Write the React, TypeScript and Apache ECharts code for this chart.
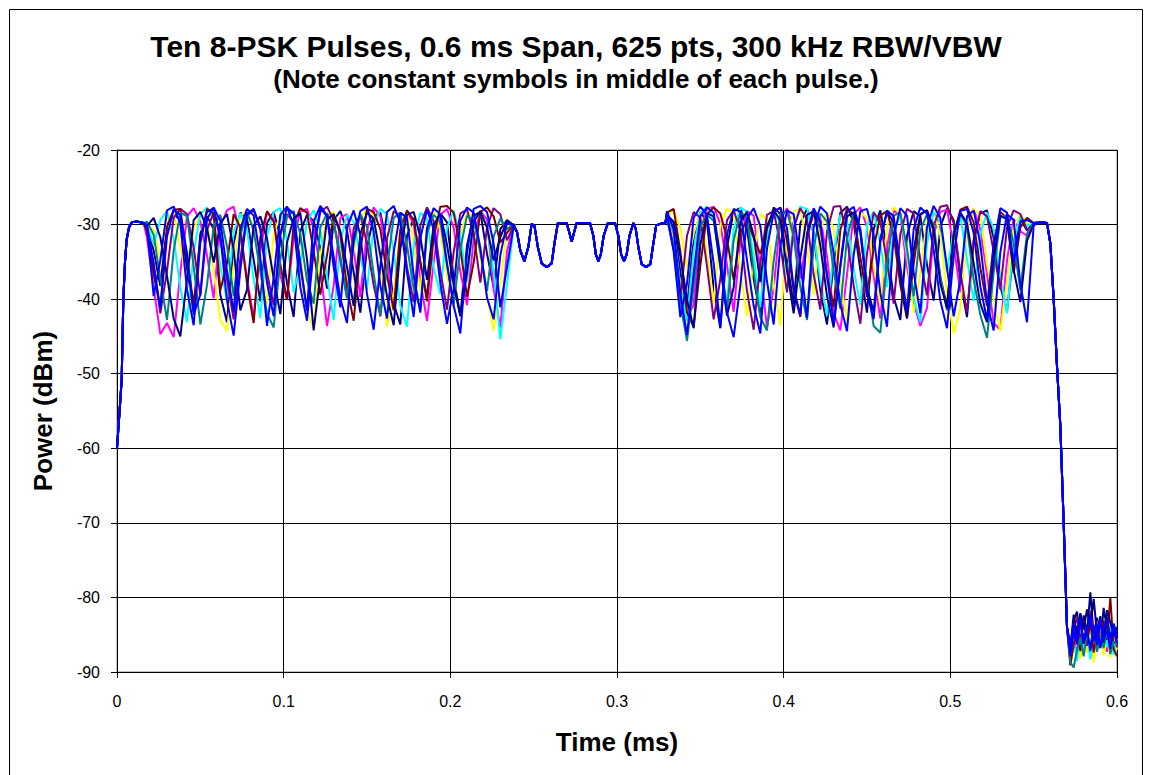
import React, { useEffect, useRef } from "react";
import * as echarts from "echarts";

const TITLE = "Ten 8-PSK Pulses, 0.6 ms Span, 625 pts, 300 kHz RBW/VBW";
const SUBTITLE = "(Note constant symbols in middle of each pulse.)";
const X_NAME = "Time (ms)";
const Y_NAME = "Power (dBm)";

const seriesNames = ["Pulse 1", "Pulse 2", "Pulse 3", "Pulse 4", "Pulse 5", "Pulse 6", "Pulse 7", "Pulse 8", "Pulse 9", "Pulse 10"];
const seriesColors = ["#000080", "#FF00FF", "#FFFF00", "#00FFFF", "#800080", "#800000", "#008080", "#000080", "#0000FF", "#0000FF"];

// Common ramp-up (all pulses)
const riseT = [0, 0.0014, 0.0028, 0.0038, 0.0048, 0.0058, 0.0072, 0.0088, 0.012, 0.016];
const riseV = [-60, -55.5, -50.8, -40, -35, -32, -30.4, -29.7, -29.6, -29.8];

// Common constant-symbol section in the middle
const midT = [0.240, 0.242, 0.2444, 0.2468, 0.2488, 0.2505, 0.2525, 0.2548, 0.2578, 0.2608, 0.2625, 0.2645, 0.2698, 0.2713, 0.2728, 0.2743, 0.2758, 0.2838, 0.2858, 0.2873, 0.2888, 0.2903, 0.292, 0.2945, 0.2988, 0.3008, 0.3025, 0.3042, 0.3058, 0.3075, 0.3098, 0.3112, 0.3128, 0.3148, 0.3174, 0.32, 0.3215, 0.3235, 0.326, 0.329];
const midV = [-31.0, -33.5, -34.9, -33.0, -29.9, -30.2, -33.0, -35.2, -35.7, -35.2, -32.5, -29.8, -29.8, -31.0, -32.3, -31.0, -29.8, -29.8, -31.5, -34.0, -34.9, -34.0, -31.5, -29.8, -29.8, -31.5, -34.0, -34.9, -34.0, -31.5, -29.8, -30.5, -33.0, -35.3, -35.7, -35.3, -33.0, -30.1, -29.9, -29.8];

// Common fall
const fallT = [0.554, 0.558, 0.560, 0.562, 0.564, 0.566, 0.568, 0.570];
const fallV = [-29.7, -29.8, -32.5, -40, -49, -57, -70, -84];

// Section A: 0.018 .. 0.238 ms, step 0.004
const A_START = 0.018;
const A_STEP = 0.004;
const a1 = [-30.4, -33.5, -38.2, -30.1, -28.6, -29.4, -35.8, -41.7,
  -31.2, -28.9, -30.6, -39.4, -43.1, -32.5, -28.4, -29.2,
  -34.7, -40.3, -29.8, -28.3, -31.6, -37.9, -42.4, -30.9,
  -28.7, -29.5, -33.2, -38.6, -29.4, -28.2, -30.8, -36.4,
  -41.8, -33.1, -28.9, -28.4, -32.7, -40.6, -43.4, -31.5,
  -29.1, -35.2, -39.8, -30.3, -28.5, -29.7, -37.1, -42.2,
  -32.8, -28.8, -28.3, -33.9, -38.4, -30.6, -29.4, -30.1];
const a2 = [-31.8, -38.5, -44.7, -43.2, -45.1, -36.4, -28.9, -27.8,
  -29.6, -34.1, -39.9, -30.2, -28.1, -27.6, -31.3, -37.2,
  -42.6, -33.5, -28.4, -29.2, -36.8, -40.1, -31.7, -28.3,
  -27.9, -30.5, -35.9, -43.6, -38.2, -29.1, -28.6, -33.4,
  -39.7, -30.8, -27.7, -28.9, -34.6, -41.3, -32.2, -28.5,
  -29.8, -37.6, -42.9, -35.1, -28.7, -27.9, -30.4, -36.3,
  -40.8, -31.9, -28.2, -29.3, -38.7, -43.8, -33.6, -29.9];
const a3 = [-29.9, -30.8, -34.6, -29.2, -28.4, -32.9, -37.5, -30.6,
  -28.7, -29.4, -36.1, -42.8, -44.3, -35.7, -28.9, -28.1,
  -30.3, -35.2, -40.6, -31.4, -28.6, -27.9, -29.7, -33.8,
  -41.5, -43.9, -34.2, -28.8, -28.3, -31.1, -38.3, -33.6,
  -29.2, -27.8, -28.9, -35.4, -43.7, -39.2, -30.1, -28.5,
  -32.4, -38.9, -29.6, -28.2, -30.7, -36.8, -41.2, -31.3,
  -28.4, -29.1, -34.5, -39.6, -44.2, -37.8, -30.6, -29.8];
const a4 = [-30.1, -32.7, -29.4, -28.2, -31.9, -38.4, -43.1, -33.8,
  -28.6, -27.7, -29.3, -35.6, -40.2, -30.9, -28.5, -30.6,
  -37.3, -42.5, -31.6, -28.3, -27.8, -32.2, -39.1, -35.4,
  -29.5, -28.1, -30.8, -36.9, -42.8, -32.3, -28.7, -29.6,
  -34.2, -38.7, -30.2, -27.9, -28.6, -33.5, -40.9, -43.7,
  -32.8, -28.4, -29.2, -35.8, -39.3, -30.4, -28.1, -31.5,
  -37.7, -29.6, -28.3, -30.2, -36.4, -45.4, -38.1, -30.3];
const a5 = [-30.6, -35.3, -41.9, -36.2, -29.1, -27.9, -28.6, -33.1,
  -39.5, -30.7, -28.4, -31.8, -37.4, -42.7, -34.6, -28.8,
  -28.1, -30.2, -36.5, -40.8, -31.4, -28.6, -29.7, -35.1,
  -41.6, -33.2, -28.3, -27.6, -29.4, -34.8, -39.9, -30.5,
  -28.7, -32.6, -38.1, -42.3, -31.9, -28.2, -28.9, -35.7,
  -40.4, -30.1, -27.7, -29.5, -36.2, -41.4, -33.7, -28.5,
  -28.0, -31.2, -37.8, -30.4, -27.8, -28.6, -32.1, -30.2];
const a6 = [-30.9, -36.7, -41.2, -30.3, -28.0, -27.9, -34.5, -40.7,
  -32.1, -27.9, -28.5, -38.8, -35.2, -28.6, -30.4, -37.9,
  -43.2, -31.7, -28.2, -29.6, -35.3, -40.1, -29.9, -27.8,
  -28.4, -33.6, -39.4, -34.1, -28.7, -31.2, -38.5, -42.9,
  -33.4, -27.9, -28.3, -30.6, -36.8, -41.5, -30.7, -28.1,
  -29.4, -34.9, -40.3, -31.8, -27.6, -27.5, -28.4, -33.2,
  -39.7, -35.1, -28.3, -27.7, -28.9, -32.4, -31.1, -30.0];
const a7 = [-29.6, -31.4, -37.2, -42.8, -33.5, -28.4, -28.9, -35.6,
  -43.4, -38.1, -30.2, -28.7, -32.9, -39.6, -31.5, -28.3,
  -30.8, -36.3, -41.9, -43.8, -34.7, -28.9, -28.2, -31.3,
  -37.5, -40.6, -30.4, -28.5, -29.9, -34.2, -39.8, -32.6,
  -28.6, -30.3, -36.6, -42.1, -35.9, -29.1, -28.4, -32.8,
  -38.6, -41.3, -31.2, -28.7, -29.6, -35.4, -40.7, -33.3,
  -28.8, -29.4, -33.7, -38.9, -31.6, -29.2, -30.6, -29.9];
const a8 = [-30.2, -29.1, -31.7, -36.9, -42.6, -45.0, -37.3, -29.4,
  -28.3, -30.5, -35.1, -29.8, -28.6, -33.4, -41.5, -38.7,
  -30.1, -28.9, -31.9, -37.2, -42.0, -32.4, -29.2, -28.5,
  -34.6, -44.2, -36.8, -29.3, -28.6, -30.9, -35.7, -40.9,
  -31.3, -28.4, -29.2, -34.1, -39.6, -43.5, -33.2, -28.7,
  -28.3, -31.6, -37.4, -30.1, -28.5, -32.7, -38.1, -42.3,
  -36.5, -29.6, -28.2, -30.4, -34.8, -31.7, -29.5, -30.1];
const a9 = [-30.0, -35.4, -41.3, -31.6, -28.0, -28.7, -33.8, -42.1,
  -39.4, -29.3, -27.7, -29.5, -36.2, -41.7, -30.6, -27.9,
  -28.8, -34.5, -43.6, -37.1, -28.7, -27.6, -30.1, -38.4,
  -42.9, -33.3, -27.8, -28.9, -35.7, -41.1, -30.4, -28.1,
  -31.4, -39.3, -44.1, -35.6, -28.3, -27.5, -29.7, -36.4,
  -42.4, -31.8, -28.0, -30.6, -37.9, -43.3, -38.6, -29.5,
  -27.7, -28.4, -33.1, -39.8, -42.7, -34.1, -29.8, -30.1];
const a10 = [-30.3, -39.6, -34.8, -28.1, -27.6, -29.8, -38.7, -43.5,
  -32.4, -28.3, -27.8, -31.5, -40.2, -44.9, -36.1, -28.6,
  -27.9, -30.7, -37.8, -42.3, -31.2, -27.7, -28.5, -35.5,
  -41.4, -29.6, -27.5, -28.8, -34.3, -39.9, -43.2, -31.9,
  -28.2, -27.6, -30.9, -38.2, -42.6, -33.7, -28.4, -29.1,
  -36.8, -41.8, -30.5, -27.8, -28.6, -35.2, -40.9, -44.6,
  -33.9, -27.9, -27.5, -28.3, -32.6, -41.1, -35.7, -30.2];

// Section B: 0.330 .. 0.550 ms, step 0.004
const B_START = 0.330;
const B_STEP = 0.004;
const b1 = [-28.6, -29.8, -36.4, -41.2, -31.7, -28.3, -29.6, -38.5,
  -43.9, -33.1, -28.2, -27.8, -30.5, -37.3, -42.1, -31.4,
  -27.7, -28.6, -34.9, -40.7, -29.8, -27.9, -31.2, -38.8,
  -43.4, -35.2, -28.4, -27.6, -29.7, -36.1, -41.8, -30.6,
  -28.1, -33.3, -39.7, -42.8, -31.5, -28.2, -28.9, -35.4,
  -40.2, -30.3, -27.8, -29.4, -37.6, -42.4, -32.2, -28.5,
  -28.1, -31.8, -38.3, -41.6, -33.5, -29.3, -30.8, -29.8];
const b2 = [-28.3, -31.2, -38.6, -42.4, -40.8, -30.7, -27.9, -27.6,
  -29.9, -35.4, -41.7, -32.3, -28.2, -28.8, -36.1, -43.8,
  -38.5, -29.4, -27.8, -30.6, -37.2, -31.9, -28.4, -29.1,
  -34.3, -41.9, -44.2, -36.7, -28.6, -27.7, -30.3, -36.9,
  -42.6, -33.1, -28.1, -28.9, -35.7, -40.5, -43.6, -41.2,
  -31.4, -28.3, -28.0, -32.8, -39.1, -30.4, -27.9, -30.7,
  -36.6, -43.2, -44.1, -34.8, -29.2, -30.9, -31.5, -29.9];
const b3 = [-28.9, -28.1, -30.4, -35.7, -31.2, -28.5, -33.9, -40.6,
  -30.1, -27.8, -28.7, -36.2, -42.3, -34.4, -28.6, -29.3,
  -38.1, -43.5, -31.7, -28.2, -27.9, -32.5, -39.4, -30.8,
  -28.3, -30.6, -37.8, -42.9, -33.2, -28.4, -29.1, -35.5,
  -40.7, -30.2, -27.7, -28.5, -34.1, -41.8, -36.6, -29.2,
  -28.1, -31.4, -39.2, -44.6, -41.3, -30.5, -27.9, -28.8,
  -35.3, -40.1, -44.3, -37.6, -30.3, -28.6, -29.9, -29.8];
const b4 = [-28.7, -30.9, -38.2, -42.9, -33.6, -28.4, -27.6, -29.2,
  -35.8, -40.4, -30.6, -27.7, -28.3, -34.2, -41.1, -31.9,
  -28.5, -29.7, -36.8, -30.2, -27.6, -27.9, -31.3, -37.5,
  -42.2, -33.8, -28.7, -29.4, -35.9, -40.8, -30.1, -28.2,
  -32.6, -38.4, -31.1, -28.6, -33.7, -39.9, -43.1, -32.5,
  -28.3, -29.6, -36.3, -30.7, -28.8, -34.6, -40.3, -31.2,
  -28.4, -30.5, -37.1, -41.9, -32.4, -28.9, -30.2, -29.8];
const b5 = [-29.2, -33.4, -39.8, -31.5, -28.3, -29.1, -35.6, -42.7,
  -37.3, -29.4, -28.1, -30.8, -38.9, -44.1, -35.2, -28.7,
  -28.2, -32.6, -39.1, -30.5, -27.8, -29.3, -36.7, -41.4,
  -30.9, -27.6, -27.5, -31.7, -38.2, -43.3, -33.9, -28.4,
  -29.6, -35.1, -40.6, -31.3, -27.9, -28.5, -34.8, -39.5,
  -30.2, -27.6, -27.4, -29.8, -36.4, -41.7, -32.1, -28.2,
  -28.9, -33.6, -38.7, -30.4, -28.1, -28.6, -30.7, -29.9];
const b6 = [-28.4, -27.9, -33.6, -41.8, -43.7, -35.5, -28.6, -27.7,
  -28.5, -31.9, -37.4, -31.1, -29.4, -31.8, -33.9, -30.5,
  -28.1, -27.8, -32.2, -38.9, -42.4, -31.6, -28.3, -30.4,
  -36.8, -41.1, -30.7, -27.9, -28.6, -34.4, -39.7, -33.2,
  -28.8, -28.2, -31.5, -38.1, -42.6, -35.3, -28.7, -28.1,
  -30.9, -37.2, -40.8, -31.4, -28.0, -27.6, -29.7, -35.8,
  -40.9, -32.6, -28.3, -29.2, -36.5, -30.4, -29.1, -29.8];
const b7 = [-29.1, -32.8, -40.5, -45.6, -38.2, -30.3, -28.7, -29.5,
  -35.4, -41.6, -32.1, -28.4, -28.9, -36.3, -42.4, -44.2,
  -34.9, -28.6, -28.2, -31.7, -38.4, -42.8, -33.1, -28.5,
  -29.6, -36.2, -41.3, -31.8, -28.3, -30.5, -37.7, -43.6,
  -44.5, -35.3, -28.8, -28.4, -33.2, -39.6, -30.8, -28.6,
  -29.9, -36.9, -41.5, -31.6, -28.5, -30.3, -37.4, -42.1,
  -45.2, -36.4, -29.1, -28.7, -32.5, -38.8, -31.2, -29.8];
const b8 = [-28.8, -29.6, -34.2, -40.1, -43.9, -32.7, -28.5, -28.9,
  -35.6, -42.2, -38.4, -29.6, -28.3, -31.4, -37.7, -30.2,
  -28.1, -29.4, -36.1, -41.9, -34.5, -28.7, -28.2, -32.8,
  -39.6, -43.8, -35.7, -28.9, -28.4, -31.1, -38.5, -41.7,
  -31.9, -28.3, -29.7, -36.8, -42.5, -33.4, -28.6, -28.1,
  -30.6, -37.9, -41.2, -31.3, -28.4, -29.8, -35.2, -40.6,
  -43.1, -34.7, -28.8, -29.3, -36.1, -40.4, -32.2, -29.9];
const b9 = [-28.2, -30.7, -39.3, -44.8, -36.5, -28.9, -27.7, -28.4,
  -34.3, -41.8, -45.1, -38.2, -29.2, -27.8, -30.2, -37.6,
  -43.4, -32.8, -28.1, -28.6, -35.1, -42.5, -30.4, -27.6,
  -28.5, -33.9, -40.7, -44.3, -34.1, -28.2, -27.9, -31.4,
  -39.2, -43.7, -31.6, -27.8, -28.8, -36.4, -41.9, -30.3,
  -27.5, -29.1, -35.8, -42.3, -37.4, -28.9, -28.1, -32.6,
  -40.5, -44.2, -33.7, -28.6, -29.4, -37.9, -43.1, -30.1];
const b10 = [-28.5, -33.6, -42.4, -37.9, -29.1, -27.6, -28.7, -35.2,
  -43.7, -31.4, -27.9, -28.3, -34.8, -40.9, -44.6, -33.2,
  -28.4, -27.7, -30.5, -38.6, -42.1, -31.2, -27.8, -29.6,
  -36.9, -43.2, -35.4, -28.3, -27.6, -30.8, -39.1, -42.7,
  -32.3, -28.1, -28.9, -35.7, -41.6, -30.6, -27.7, -28.5,
  -33.4, -40.2, -43.9, -34.2, -28.2, -27.9, -31.1, -38.3,
  -42.8, -32.9, -27.8, -28.4, -35.1, -29.6, -29.4, -29.8];

// Noise floor after the pulse: 0.572 .. 0.600 ms, step 0.002
const T_START = 0.572;
const T_STEP = 0.002;
const t1 = [-87.2, -83.1, -81.9, -85.6, -82.4, -84.8, -79.3, -85.1, -82.7, -86.3, -81.4, -84.2, -87.5, -83.6, -85.9];
const t2 = [-88.4, -85.2, -87.6, -83.9, -86.7, -84.1, -87.9, -85.4, -83.2, -86.8, -84.5, -87.3, -85.6, -83.8, -86.2];
const t3 = [-88.9, -86.1, -84.3, -88.2, -85.7, -87.4, -83.6, -88.7, -86.4, -84.9, -87.8, -85.3, -88.1, -84.7, -87.0];
const t4 = [-87.6, -85.9, -88.5, -84.6, -86.9, -85.1, -88.3, -84.4, -87.1, -85.8, -83.5, -86.6, -84.2, -87.7, -85.5];
const t5 = [-86.3, -84.2, -82.7, -85.9, -83.1, -86.5, -81.8, -84.7, -86.9, -83.4, -85.2, -82.6, -85.8, -84.1, -86.7];
const t6 = [-89.1, -86.4, -83.8, -87.2, -84.9, -86.1, -83.3, -87.4, -84.6, -86.2, -83.1, -85.7, -80.1, -86.9, -87.9];
const t7 = [-88.7, -89.4, -87.1, -85.4, -87.9, -84.8, -86.6, -83.9, -87.3, -85.1, -86.8, -84.3, -87.6, -85.9, -86.4];
const t8 = [-86.8, -82.3, -85.4, -82.1, -84.3, -81.6, -83.9, -80.2, -84.8, -82.5, -86.1, -81.7, -83.4, -85.2, -84.0];
const t9 = [-87.9, -84.5, -86.3, -83.2, -85.8, -84.1, -87.2, -83.7, -86.4, -82.9, -85.6, -84.4, -86.9, -83.5, -85.1];
const t10 = [-86.5, -83.4, -85.7, -82.8, -86.2, -84.6, -82.3, -85.9, -83.7, -86.8, -84.2, -82.9, -85.4, -83.6, -86.1];

const sectionA = [a1, a2, a3, a4, a5, a6, a7, a8, a9, a10];
const sectionB = [b1, b2, b3, b4, b5, b6, b7, b8, b9, b10];
const tails = [t1, t2, t3, t4, t5, t6, t7, t8, t9, t10];

const zip = (ts: number[], vs: number[]) => ts.map((t, i) => [t, vs[i]]);
const seg = (start: number, step: number, vs: number[]) =>
  vs.map((v, i) => [Number((start + i * step).toFixed(4)), v]);

const FONT = '"Liberation Sans", Arial, Helvetica, sans-serif';

function buildOption() {
  const series = seriesNames.map((name, k) => ({
    name,
    type: "line",
    showSymbol: false,
    symbol: "none",
    smooth: false,
    silent: true,
    color: seriesColors[k],
    lineStyle: { color: seriesColors[k], width: 2 },
    data: [
      ...zip(riseT, riseV),
      ...seg(A_START, A_STEP, sectionA[k]),
      ...zip(midT, midV),
      ...seg(B_START, B_STEP, sectionB[k]),
      ...zip(fallT, fallV),
      ...seg(T_START, T_STEP, tails[k]),
    ],
  }));

  return {
    animation: false,
    backgroundColor: "#ffffff",
    grid: {
      left: 117,
      right: 35,
      top: 150,
      bottom: 103,
      show: true,
      borderColor: "#808080",
      borderWidth: 1,
      backgroundColor: "transparent",
    },
    xAxis: {
      type: "value",
      min: 0,
      max: 0.6,
      interval: 0.1,
      axisLine: { show: true, onZero: false, lineStyle: { color: "#000", width: 1 } },
      axisTick: { show: true, inside: false, length: 6, lineStyle: { color: "#000" } },
      axisLabel: { margin: 21, fontSize: 16, color: "#000", fontFamily: FONT },
      splitLine: { show: true, lineStyle: { color: "#000", width: 1 } },
    },
    yAxis: {
      type: "value",
      min: -90,
      max: -20,
      interval: 10,
      axisLine: { show: true, onZero: false, lineStyle: { color: "#000", width: 1 } },
      axisTick: { show: true, inside: false, length: 6, lineStyle: { color: "#000" } },
      axisLabel: { margin: 17, fontSize: 16, color: "#000", fontFamily: FONT },
      splitLine: { show: true, lineStyle: { color: "#000", width: 1 } },
    },
    graphic: [
      {
        type: "rect",
        silent: true,
        z: -10,
        shape: { x: 9.5, y: 9.5, width: 1133, height: 800 },
        style: { fill: "none", stroke: "#000", lineWidth: 1 },
      },
      {
        type: "text",
        silent: true,
        x: 576,
        y: 46,
        style: { text: TITLE, align: "center", verticalAlign: "middle", fontSize: 30, fontWeight: "bold", fontFamily: FONT, fill: "#000" },
      },
      {
        type: "text",
        silent: true,
        x: 576,
        y: 79,
        style: { text: SUBTITLE, align: "center", verticalAlign: "middle", fontSize: 26, fontWeight: "bold", fontFamily: FONT, fill: "#000" },
      },
      {
        type: "text",
        silent: true,
        x: 617,
        y: 742,
        style: { text: X_NAME, align: "center", verticalAlign: "middle", fontSize: 26, fontWeight: "bold", fontFamily: FONT, fill: "#000" },
      },
      {
        type: "text",
        silent: true,
        x: 43,
        y: 411,
        rotation: Math.PI / 2,
        style: { text: Y_NAME, align: "center", verticalAlign: "middle", fontSize: 26, fontWeight: "bold", fontFamily: FONT, fill: "#000" },
      },
    ],
    series,
  };
}

export default function App() {
  const ref = useRef<HTMLDivElement>(null);
  useEffect(() => {
    if (!ref.current) return;
    const chart = echarts.init(ref.current, null, { renderer: "svg" });
    chart.setOption(buildOption() as any);
    return () => chart.dispose();
  }, []);
  return (
    <div
      ref={ref}
      style={{ position: "absolute", left: 0, top: 0, width: 1152, height: 775, background: "#fff" }}
    />
  );
}
